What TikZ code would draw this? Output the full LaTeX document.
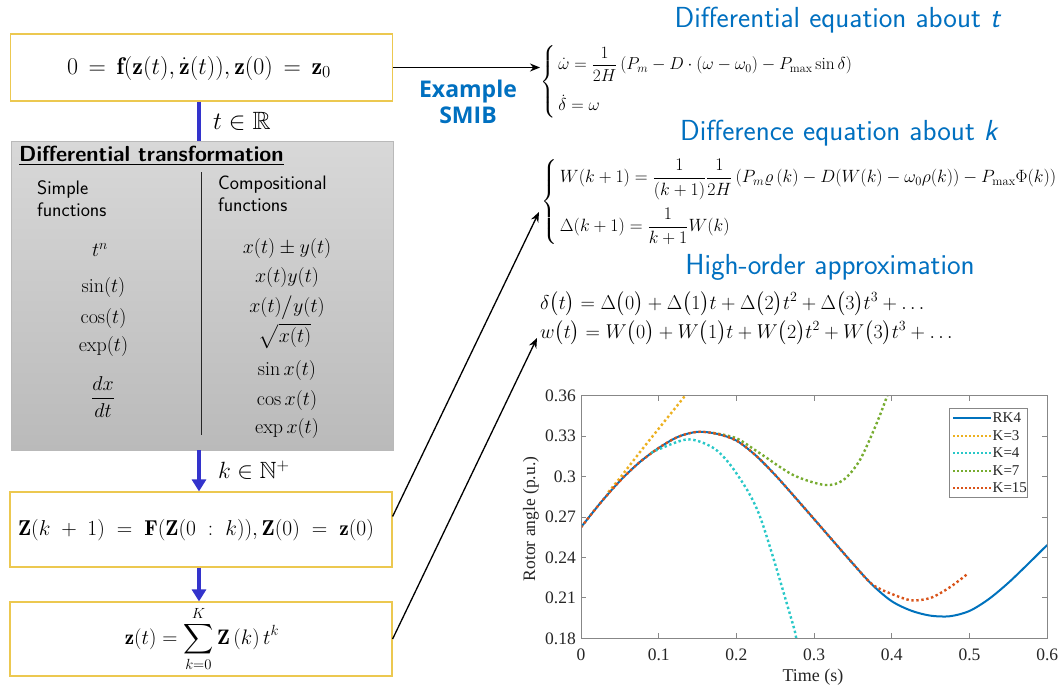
\RequirePackage{fix-cm}
\documentclass[tikz,border=0pt]{standalone}
\usepackage{amsmath,amssymb}
\usepackage{fontspec}
\newfontfamily\timesf{Liberation Serif}
\newfontfamily\boldsans{Open Sans}
\usetikzlibrary{arrows.meta}
\definecolor{boxyellow}{RGB}{236,200,80}
\definecolor{arrowblue}{RGB}{51,51,204}
\definecolor{titleblue}{RGB}{0,112,192}
\definecolor{mlblue}{RGB}{0,114,189}
\definecolor{mlorange}{RGB}{237,177,32}
\definecolor{mlcyan}{RGB}{40,200,200}
\definecolor{mlgreen}{RGB}{119,172,48}
\definecolor{mlred}{RGB}{217,83,25}
\definecolor{axisgray}{RGB}{135,135,135}
\tikzset{
  ybox/.style={draw=boxyellow, line width=1.2pt, fill=white, inner sep=0pt, minimum width=382pt},
  colmath/.style={font=\fontsize{20}{24}\selectfont, inner sep=0pt},
  blueline/.style={draw=arrowblue, line width=4.5pt},
  bluearrow/.style={blueline, -{Triangle[length=12pt,width=14pt]}},
  blackarrow/.style={-{Stealth[length=10pt,width=8pt]}, line width=1.3pt},
  bluetitle/.style={font=\sffamily\fontsize{29}{32}\selectfont, text=titleblue},
  eqfont/.style={font=\fontsize{17.3}{20}\selectfont, inner sep=0pt},
  axis/.style={draw=axisgray, line width=0.8pt},
  ticklab/.style={font=\timesf\fontsize{17.5}{20}\selectfont, text=black!85, inner sep=0pt},
  leglab/.style={font=\timesf\fontsize{15}{17}\selectfont, text=black!85, inner sep=0pt, anchor=west},
  dotcurve/.style={line width=2.4pt, dash pattern=on 2.4pt off 2.6pt},
  legdot/.style={line width=2pt, dash pattern=on 2pt off 2pt},
}
\begin{document}
\begin{tikzpicture}[x=1pt,y=-1pt]
\fill[white] (0,0) rectangle (1061,688);
\useasboundingbox (0,0) rectangle (1061,688);

% left column boxes
\node[ybox, minimum height=67pt] (top) at (201.5,67.5) {};
\node[font=\fontsize{24}{28}\selectfont] (topeq) at (199,68) {$0 \,=\, \mathbf{f}\mathbf{(}\mathbf{z}(t),\dot{\mathbf{z}}(t)\mathbf{)},\mathbf{z}(0) \,=\, \mathbf{z}_0$};

\node[draw=gray!55, line width=0.8pt, top color={rgb,255:red,216;green,216;blue,216}, bottom color={rgb,255:red,186;green,186;blue,186}, minimum width=382pt, minimum height=309pt, inner sep=0pt] (dt) at (202,295.5) {};
\node[anchor=west, font=\sffamily\bfseries\fontsize{21.8}{24}\selectfont, inner sep=0pt] (dttitle) at (19,156) {\underline{Differential transformation}};
\node[anchor=west, align=left, font=\sffamily\fontsize{19.5}{21.5}\selectfont, inner sep=0pt] (simple) at (37,198.5) {Simple\\functions};
\node[anchor=west, align=left, font=\sffamily\fontsize{19.5}{22}\selectfont, inner sep=0pt] (comp) at (218,194) {Compositional\\functions};
\coordinate (divtop) at (201.7,172);
\coordinate (divbot) at (201.7,435);
\draw[line width=1.5pt, black!85] (divtop) -- (divbot);

\node[colmath] (s1) at (100,250) {$t^{n}$};
\node[colmath] (s2) at (103.5,287) {$\sin(t)$};
\node[colmath] (s3) at (103.5,318) {$\cos(t)$};
\node[colmath] (s4) at (103.5,346) {$\exp(t)$};
\node[colmath] (s5) at (103,397) {$\dfrac{dx}{dt}$};

\node[colmath] (c1) at (287,248) {$x(t)\pm y(t)$};
\node[colmath] (c2) at (287,277.5) {$x(t)y(t)$};
\node[colmath] (c3) at (287,307.5) {$x(t)\big/y(t)$};
\node[colmath] (c4) at (285,336) {$\sqrt{x(t)}$};
\node[colmath] (c5) at (287,370) {$\sin x(t)$};
\node[colmath] (c6) at (287,400) {$\cos x(t)$};
\node[colmath] (c7) at (287,428.5) {$\exp x(t)$};

\node[ybox, minimum height=75pt] (box2) at (201,529.5) {};
\node[font=\fontsize{21.5}{25}\selectfont] (box2eq) at (196,530) {$\mathbf{Z}(k\;+\;1)\;=\;\mathbf{F}(\mathbf{Z}(0\;:\;k)),\mathbf{Z}(0)\;=\;\mathbf{z}(0)$};
\node[ybox, minimum height=74pt] (box3) at (201,639) {};
\node[font=\fontsize{21}{24}\selectfont] (box3eq) at (202,639) {$\displaystyle \mathbf{z}(t) = \sum_{k=0}^{K}\mathbf{Z}\left(k\right)t^{k}$};

% blue connectors
\draw[blueline] ([xshift=-2.5pt]top.south) -- ([xshift=-2.5pt]top.south |- dt.north);
\draw[bluearrow] ([xshift=-3pt]dt.south) -- ([xshift=-3pt]dt.south |- box2.north);
\draw[bluearrow] ([xshift=-2pt]box2.south) -- ([xshift=-2pt]box2.south |- box3.north);
\node[anchor=west, font=\fontsize{25}{28}\selectfont, inner sep=0pt] (tlab) at (213,121) {$t\in\mathbb{R}$};
\node[anchor=west, font=\fontsize{23.5}{26}\selectfont, inner sep=0pt] (klab) at (218,470) {$k\in\mathbb{N}^{+}$};

% example
\node[font=\boldsans\bfseries\fontsize{23}{26}\selectfont, text=titleblue, align=center, inner sep=0pt] (smib) at (468,102) {Example\\SMIB};

% right titles and equations
\node[bluetitle] (title1) at (838,20) {Differential equation about \textit{t}};
\node[bluetitle] (title2) at (839.5,133) {Difference equation about \textit{k}};
\node[bluetitle] (title3) at (830,267) {High-order approximation};

\node[eqfont, anchor=west] (eqA) at (540,82) {$\left\{\begin{array}{@{\,}l}
\dot{\omega} = \dfrac{1}{2H}\left(P_{m} - D\cdot(\omega-\omega_{0}) - P_{\mathrm{max}}\sin\delta\right)\\[19pt]
\dot{\delta} = \omega
\end{array}\right.$};

\node[eqfont, font=\fontsize{17.8}{20}\selectfont, anchor=west] (eqB) at (541,202) {$\left\{\begin{array}{@{\,}l}
W(k+1) = \dfrac{1}{\left(k+1\right)}\dfrac{1}{2H}\left(P_{m}\varrho\left(k\right) - D(W(k) - \omega_{0}\rho(k)) - P_{\mathrm{max}}\Phi(k)\right)\\[19pt]
\Delta(k+1) = \dfrac{1}{k+1}W(k)
\end{array}\right.$};

\node[eqfont, font=\fontsize{20}{22}\selectfont, anchor=west] (apx1) at (540,304) {$\delta\bigl(t\bigr) = \Delta\bigl(0\bigr) + \Delta\bigl(1\bigr)t + \Delta\bigl(2\bigr)t^{2} + \Delta\bigl(3\bigr)t^{3} + \ldots$};
\node[eqfont, font=\fontsize{20}{22}\selectfont, anchor=west] (apx2) at (540,333) {$w\bigl(t\bigr) = W\bigl(0\bigr) + W\bigl(1\bigr)t + W\bigl(2\bigr)t^{2} + W\bigl(3\bigr)t^{3} + \ldots$};

% black connectors
\coordinate (tipB) at (539,212);
\coordinate (tipC) at (537,338);
\draw[blackarrow] (top.east) -- (top.east -| eqA.west);
\draw[blackarrow] ([yshift=13pt]box2.east) -- (tipB);
\draw[blackarrow] (box3.east) -- (tipC);

% plot
\begin{scope}[shift={(581,880.76)}, x=777pt, y=1347pt]
  \begin{scope}
    \clip (0,0.18) rectangle (0.6,0.36);
    \draw[mlblue, line width=2pt] plot[smooth] coordinates {(0,0.2624) (0.025,0.2805) (0.05,0.2968) (0.075,0.3105) (0.1,0.3213) (0.125,0.3296) (0.15,0.3333) (0.175,0.3318) (0.2,0.3268) (0.225,0.3157) (0.25,0.3012) (0.275,0.2850) (0.3,0.2685) (0.325,0.2519) (0.35,0.2354) (0.375,0.2196) (0.4,0.2075) (0.425,0.2005) (0.45,0.1968) (0.475,0.1964) (0.5,0.2003) (0.525,0.2092) (0.55,0.2212) (0.575,0.2350) (0.6,0.2493)};
    \draw[mlorange, dotcurve] plot[smooth] coordinates {(0.035,0.2885) (0.048,0.2975) (0.078,0.3198) (0.1038,0.3384) (0.1338,0.36) (0.14,0.365)};
    \draw[mlcyan, dotcurve] plot[smooth] coordinates {(0.09,0.3175) (0.1,0.3203) (0.138,0.3277) (0.1725,0.3205) (0.2,0.3025) (0.2304,0.2703) (0.2711,0.1936) (0.277,0.18) (0.282,0.168)};
    \draw[mlgreen, dotcurve] plot[smooth] coordinates {(0.17,0.3325) (0.2,0.3285) (0.2304,0.3173) (0.2732,0.3012) (0.314,0.2938) (0.3376,0.2975) (0.359,0.3124) (0.3805,0.3396) (0.394,0.36) (0.4,0.372)};
    \draw[mlred, dotcurve] plot[smooth] coordinates {(0,0.2624) (0.025,0.2805) (0.05,0.2968) (0.075,0.3105) (0.1,0.3213) (0.125,0.3296) (0.15,0.3333) (0.175,0.3318) (0.2,0.3268) (0.225,0.3157) (0.25,0.3012) (0.275,0.2850) (0.3,0.2685) (0.325,0.2519) (0.35,0.2354) (0.375,0.2200) (0.4,0.2129) (0.425,0.2082) (0.45,0.2100) (0.475,0.2180) (0.4985,0.2283)};
  \end{scope}
  \draw[axis] (0,0.18) rectangle (0.6,0.36);
  \foreach \t in {0.1,0.2,0.3,0.4,0.5} {
    \draw[axis] (\t,0.18) -- ++(0,5pt);
    \draw[axis] (\t,0.36) -- ++(0,-5pt);
  }
  \foreach \v in {0.21,0.24,0.27,0.3,0.33} {
    \draw[axis] (0,\v) -- ++(5pt,0);
    \draw[axis] (0.6,\v) -- ++(-5pt,0);
  }
  \foreach \v/\l [count=\i] in {0.18/0.18,0.21/0.21,0.24/0.24,0.27/0.27,0.3/0.3,0.33/0.33,0.36/0.36} {
    \node[ticklab, anchor=east, xshift=-5pt] (yl\i) at (0,\v) {\l};
  }
  \foreach \t/\l [count=\i] in {0/0,0.1/0.1,0.2/0.2,0.3/0.3,0.4/0.4,0.5/0.5,0.6/0.6} {
    \node[ticklab, anchor=north, yshift=-10pt] (xl\i) at (\t,0.18) {\l};
  }
\end{scope}
\node[ticklab, font=\timesf\fontsize{18}{20}\selectfont] (xlabel) at (813,677) {Time (s)};
\node[ticklab, rotate=90, font=\timesf\fontsize{17.5}{20}\selectfont] (ylabel) at (531,519) {Rotor angle (p.u.)};

% legend
\node[draw=axisgray, line width=0.8pt, fill=white, minimum width=78pt, minimum height=89pt, inner sep=0pt] (legend) at (988,452.5) {};
\draw[mlblue, line width=2pt] (953,418) -- (991,418);
\node[leglab] (l1) at (992.5,418) {RK4};
\draw[mlorange, legdot] (953,435.5) -- (991,435.5);
\node[leglab] (l2) at (992.5,435.5) {K=3};
\draw[mlcyan, legdot] (953,453) -- (991,453);
\node[leglab] (l3) at (992.5,453) {K=4};
\draw[mlgreen, legdot] (953,470.5) -- (991,470.5);
\node[leglab] (l4) at (992.5,470.5) {K=7};
\draw[mlred, legdot] (953,488) -- (991,488);
\node[leglab] (l5) at (992.5,488) {K=15};
\end{tikzpicture}
\end{document}
